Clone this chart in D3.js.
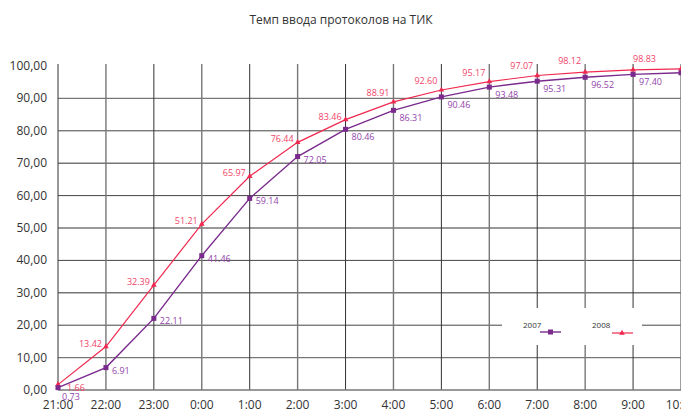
<!DOCTYPE html>
<html>
<head>
<meta charset="utf-8">
<script src="https://cdn.jsdelivr.net/npm/d3@7"></script>
<style>
  body { margin: 0; background: #fff; overflow: hidden; }
  text { font-family: 'Open Sans', sans-serif; }
</style>
</head>
<body>
<svg id="chart"></svg>
<script>
const width = 681
const height = 412

// data
const hours = ['21:00', '22:00', '23:00', '0:00', '1:00', '2:00', '3:00', '4:00', '5:00', '6:00', '7:00', '8:00', '9:00', '10:00']
const values2007 = [0.73, 6.91, 22.11, 41.46, 59.14, 72.05, 80.46, 86.31, 90.46, 93.48, 95.31, 96.52, 97.40, 97.9]
const values2008 = [1.66, 13.42, 32.39, 51.21, 65.97, 76.44, 83.46, 88.91, 92.60, 95.17, 97.07, 98.12, 98.83, 99.1]
const yTicks = [0, 10, 20, 30, 40, 50, 60, 70, 80, 90, 100]

const c2007 = '#7a2a8c'
const c2008 = '#f0284f'
const l2007 = '#9245aa'
const l2008 = '#f04468'

const svg = d3.select('#chart').attr('width', width).attr('height', height)

const x = d3.scalePoint().domain(hours).range([58, 681])
const y = d3.scaleLinear().domain([0, 100]).range([390, 66])

// title
svg.append('text')
  .attr('x', 341).attr('y', 24)
  .attr('text-anchor', 'middle')
  .attr('font-size', 12)
  .attr('fill', '#333')
  .text('Темп ввода протоколов на ТИК')

// grid
const grid = svg.append('g')
grid.selectAll('line.h')
  .data(yTicks.filter(d => d > 0 && d < 100))
  .join('line')
  .attr('x1', 58).attr('x2', width)
  .attr('y1', d => y(d)).attr('y2', d => y(d))
  .attr('stroke', (d, i) => i % 2 ? '#444' : '#777')
  .attr('stroke-width', (d, i) => i % 2 ? 1 : 1.4)

grid.selectAll('line.v')
  .data(hours)
  .join('line')
  .attr('x1', d => x(d)).attr('x2', d => x(d))
  .attr('y1', 64).attr('y2', 390)
  .attr('stroke', (d, i) => i % 2 ? '#777' : '#333')
  .attr('stroke-width', (d, i) => i % 2 ? 1.4 : 1)

// x axis line
svg.append('line')
  .attr('x1', 58).attr('x2', width)
  .attr('y1', y(0)).attr('y2', y(0))
  .attr('stroke', '#777').attr('stroke-width', 1.4)

// y labels
svg.append('g').selectAll('text')
  .data(yTicks)
  .join('text')
  .attr('x', 47).attr('y', d => y(d) + 4)
  .attr('text-anchor', 'end')
  .attr('font-size', 12)
  .attr('fill', '#333')
  .text(d => d3.format('.2f')(d).replace('.', ','))

// x labels
svg.append('g').selectAll('text')
  .data(hours)
  .join('text')
  .attr('x', d => x(d)).attr('y', 409)
  .attr('text-anchor', 'middle')
  .attr('font-size', 12)
  .attr('fill', '#333')
  .text(d => d)

const line = d3.line()
  .x((d, i) => x(hours[i]))
  .y(d => y(d))

// 2008 series
svg.append('path')
  .datum(values2008)
  .attr('d', line)
  .attr('fill', 'none')
  .attr('stroke', c2008)
  .attr('stroke-width', 1.2)

svg.append('g').selectAll('path')
  .data(values2008)
  .join('path')
  .attr('d', d3.symbol(d3.symbolTriangle, 14))
  .attr('transform', (d, i) => `translate(${x(hours[i])},${y(d)})`)
  .attr('fill', c2008)

// label placement for 2008: above-left, first one right, last ones above-right
const dy2008 = (d, i) => i === 0 ? 6 : i >= 11 ? -8 : i >= 7 ? -6 : 0
svg.append('g').selectAll('text')
  .data(values2008)
  .join('text')
  .attr('x', (d, i) => i === 0 ? x(hours[i]) + 9 : i >= 12 ? x(hours[i]) : x(hours[i]) - 4)
  .attr('y', (d, i) => y(d) + dy2008(d, i))
  .attr('text-anchor', (d, i) => (i === 0 || i >= 12) ? 'start' : 'end')
  .attr('font-size', 9)
  .attr('fill', l2008)
  .text(d => d.toFixed(2))

// 2007 series
svg.append('path')
  .datum(values2007)
  .attr('d', line)
  .attr('fill', 'none')
  .attr('stroke', c2007)
  .attr('stroke-width', 1.4)

svg.append('g').selectAll('rect')
  .data(values2007)
  .join('rect')
  .attr('x', (d, i) => x(hours[i]) - 2.5)
  .attr('y', d => y(d) - 2.5)
  .attr('width', 5).attr('height', 5)
  .attr('fill', c2007)

svg.append('g').selectAll('text')
  .data(values2007)
  .join('text')
  .attr('x', (d, i) => i === 0 ? x(hours[i]) + 4 : x(hours[i]) + 6)
  .attr('y', (d, i) => i === 0 ? y(d) + 12 : i >= 6 ? y(d) + 11 : y(d) + 6)
  .attr('text-anchor', 'start')
  .attr('font-size', 9)
  .attr('fill', l2007)
  .text(d => d.toFixed(2))

// legend
const legend = svg.append('g')
legend.append('rect')
  .attr('x', 502).attr('y', 308)
  .attr('width', 140).attr('height', 37)
  .attr('fill', '#fff')

legend.append('text')
  .attr('x', 523).attr('y', 328)
  .attr('font-size', 8).attr('fill', '#333')
  .text('2007')
legend.append('line')
  .attr('x1', 540).attr('x2', 561).attr('y1', 332).attr('y2', 332)
  .attr('stroke', c2007).attr('stroke-width', 1.4)
legend.append('rect')
  .attr('x', 548).attr('y', 329.5).attr('width', 5).attr('height', 5)
  .attr('fill', c2007)

legend.append('text')
  .attr('x', 592).attr('y', 328)
  .attr('font-size', 8).attr('fill', '#333')
  .text('2008')
legend.append('line')
  .attr('x1', 612).attr('x2', 633).attr('y1', 333).attr('y2', 333)
  .attr('stroke', c2008).attr('stroke-width', 1.2)
legend.append('path')
  .attr('d', d3.symbol(d3.symbolTriangle, 14))
  .attr('transform', 'translate(622,333)')
  .attr('fill', c2008)
</script>
</body>
</html>
